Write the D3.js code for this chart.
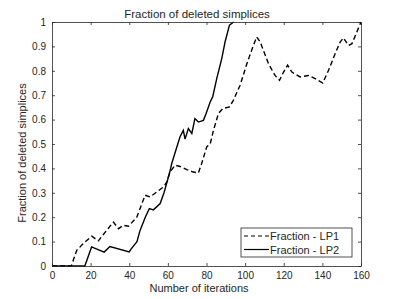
<!DOCTYPE html>
<html>
<head>
<meta charset="utf-8">
<script src="https://cdn.jsdelivr.net/npm/d3@7"></script>
<style>
  body { margin: 0; background: #fff; }
  text { font-family: "Liberation Sans", Arial, sans-serif; fill: #262626; }
</style>
</head>
<body>
<svg width="399" height="299"></svg>
<script>
// values
let lp1X = [0, 10, 12.8, 16.2, 20.6, 24, 28.3, 31.8, 34.4, 36.9, 39.6, 43.9, 48.2, 50.8, 54.2, 57.7, 59.4, 61.1, 63.7, 66.3, 69.8, 73.2, 75.8, 77.5, 80.1, 81.9, 83.6, 86.2, 88.4, 91.9, 93.9, 97.4, 100.9, 104, 106, 107.8, 112.1, 115.5, 117.8, 119.9, 122, 124.2, 128.5, 132.8, 136.3, 140.2, 143.2, 146.6, 149.2, 150.9, 153.5, 155.3, 157.9, 160]
let lp1Y = [0, 0, 0.064, 0.092, 0.122, 0.103, 0.146, 0.18, 0.153, 0.167, 0.163, 0.2, 0.29, 0.283, 0.303, 0.324, 0.344, 0.385, 0.413, 0.408, 0.395, 0.385, 0.381, 0.42, 0.488, 0.5, 0.556, 0.625, 0.645, 0.652, 0.679, 0.741, 0.829, 0.898, 0.939, 0.918, 0.829, 0.781, 0.761, 0.795, 0.823, 0.795, 0.775, 0.781, 0.768, 0.75, 0.802, 0.87, 0.918, 0.935, 0.904, 0.911, 0.96, 1]
let lp2X = [0, 17, 20.5, 27, 30, 40, 41, 44, 45.6, 48.3, 50.4, 52.5, 56, 58, 61, 62, 66.3, 68, 68.9, 70.6, 72.4, 74, 75.8, 78.4, 79.8, 81.9, 83.2, 85.3, 87.9, 89.6, 91.9, 94]
let lp2Y = [0, 0, 0.078, 0.057, 0.08, 0.058, 0.07, 0.1, 0.146, 0.2, 0.235, 0.23, 0.256, 0.3, 0.385, 0.42, 0.53, 0.556, 0.52, 0.563, 0.543, 0.604, 0.59, 0.597, 0.625, 0.672, 0.693, 0.768, 0.85, 0.918, 0.987, 1]
let xTicks = [0, 20, 40, 60, 80, 100, 120, 140, 160]
let yTicks = [0, 0.1, 0.2, 0.3, 0.4, 0.5, 0.6, 0.7, 0.8, 0.9, 1]
let legendNames = ['Fraction - LP1', 'Fraction - LP2']

let svg = d3.select('svg'),
  mLeft = 52, mRight = 361, mTop = 22, mBottom = 266

let x = d3.scaleLinear().domain([0, 160]).range([mLeft, mRight])
let y = d3.scaleLinear().domain([0, 1]).range([mBottom, mTop])

let axisColor = '#262626'

svg.append('text')
  .attr('x', 197).attr('y', 18)
  .attr('text-anchor', 'middle')
  .style('font-size', '11.5px')
  .text('Fraction of deleted simplices')

// lines, clipped to the plot box
svg.append('clipPath').attr('id', 'clip')
  .append('rect').attr('x', mLeft).attr('y', mTop - 1).attr('width', mRight - mLeft).attr('height', mBottom - mTop + 2)

let line = d3.line().x(d => x(d[0])).y(d => y(d[1]))
let plot = svg.append('g').attr('clip-path', 'url(#clip)')

plot.append('path')
  .datum(d3.zip(lp1X, lp1Y))
  .attr('d', line)
  .attr('fill', 'none').attr('stroke', '#000').attr('stroke-width', 1.4)
  .attr('stroke-dasharray', '5,3')

plot.append('path')
  .datum(d3.zip(lp2X, lp2Y))
  .attr('d', line)
  .attr('fill', 'none').attr('stroke', '#000').attr('stroke-width', 1.4)

// axes with inward ticks, mirrored on top and right
let tick = 3
let fmtY = d => d === 0 || d === 1 ? String(d) : d.toFixed(1)

svg.append('g').attr('transform', `translate(0,${mBottom})`)
  .call(d3.axisBottom(x).tickValues(xTicks).tickSizeInner(-tick).tickSizeOuter(0).tickPadding(6))
svg.append('g').attr('transform', `translate(${mLeft},0)`)
  .call(d3.axisLeft(y).tickValues(yTicks).tickFormat(fmtY).tickSizeInner(-tick).tickSizeOuter(0).tickPadding(6))
svg.append('g').attr('transform', `translate(0,${mTop})`)
  .call(d3.axisTop(x).tickValues(xTicks).tickFormat('').tickSizeInner(-tick).tickSizeOuter(0))
svg.append('g').attr('transform', `translate(${mRight},0)`)
  .call(d3.axisRight(y).tickValues(yTicks).tickFormat('').tickSizeInner(-tick).tickSizeOuter(0))

svg.selectAll('.domain, .tick line').attr('stroke', axisColor).attr('stroke-width', 0.8)
svg.selectAll('.tick text').style('font-size', '10px').attr('fill', axisColor).style('font-family', '"Liberation Sans", Arial, sans-serif')

svg.append('text')
  .attr('x', 199).attr('y', 292)
  .attr('text-anchor', 'middle')
  .style('font-size', '11px')
  .text('Number of iterations')

svg.append('text')
  .attr('transform', 'translate(26,153) rotate(-90)')
  .attr('text-anchor', 'middle')
  .style('font-size', '11px')
  .text('Fraction of deleted simplices')

// legend
let lg = svg.append('g').attr('transform', 'translate(241,228)')
lg.append('rect').attr('width', 111).attr('height', 29)
  .attr('fill', '#fff').attr('stroke', axisColor).attr('stroke-width', 0.8)

let items = lg.selectAll('g.item')
  .data(legendNames)
  .enter().append('g')
    .attr('class', 'item')
    .attr('transform', (d, i) => `translate(0,${8 + i * 13.5})`)

items.append('line')
  .attr('x1', 3).attr('x2', 28)
  .attr('stroke', '#000').attr('stroke-width', 1.2)
  .attr('stroke-dasharray', (d, i) => i === 0 ? '4,3' : null)

items.append('text')
  .attr('x', 29).attr('y', 4)
  .style('font-size', '11px')
  .text(d => d)
</script>
</body>
</html>
